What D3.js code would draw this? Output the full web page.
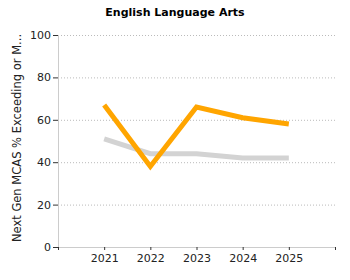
<!DOCTYPE html>
<html>
<head>
<meta charset="utf-8">
<script src="https://cdn.jsdelivr.net/npm/d3@7"></script>
<style>
body { margin: 0; background: #fff; }
text { font-family: "DejaVu Sans", Verdana, sans-serif; }
</style>
</head>
<body>
<div class="container"></div>
<script>
var years = [2021, 2022, 2023, 2024, 2025];
var schoolValues = [67, 38, 66, 61, 58];
var stateValues = [51, 44, 44, 42, 42];
var yTicks = [0, 20, 40, 60, 80, 100];

var width = 350;
var height = 280;
var mLeft = 58, mRight = 335, mTop = 35, mBottom = 247;

var translate = function(x, y) {
    return 'translate(' + x + ',' + y + ')';
}

var svg = d3.select('.container').append('svg')
    .attr('width', width)
    .attr('height', height);

var XScale = d3.scaleLinear().domain([2020, 2026]).range([mLeft, mRight]);
var YScale = d3.scaleLinear().domain([0, 100]).range([mBottom, mTop]);

svg.append('text')
    .attr('x', 175).attr('y', 16)
    .attr('text-anchor', 'middle')
    .style('font-size', '11px').style('font-weight', 'bold')
    .text('English Language Arts');

// grid
svg.append('g').selectAll('line')
    .data(yTicks.slice(1))
    .enter().append('line')
    .attr('x1', mLeft).attr('x2', mRight)
    .attr('y1', function(d) { return YScale(d) + 0.5; })
    .attr('y2', function(d) { return YScale(d) + 0.5; })
    .attr('stroke', '#bbb').attr('stroke-dasharray', '1,2');

var yAxis = d3.axisLeft(YScale).tickValues(yTicks).tickSize(5).tickPadding(2);
var gy = svg.append('g').attr('transform', translate(mLeft, 0)).call(yAxis);
gy.select('.domain').attr('stroke', '#ccc').attr('d', 'M0.5,' + mTop + 'V' + mBottom);
gy.selectAll('.tick line').attr('stroke', '#333');
gy.selectAll('.tick text').style('font-size', '11px').attr('fill', '#222');

var xAxis = d3.axisBottom(XScale).tickValues([2020].concat(years).concat([2026]))
    .tickFormat(function(d) { return years.indexOf(d) >= 0 ? d : ''; })
    .tickSize(3).tickPadding(4);
var gx = svg.append('g').attr('transform', translate(0, mBottom)).call(xAxis);
gx.select('.domain').attr('stroke', '#ccc').attr('d', 'M' + mLeft + ',0.5H' + mRight);
gx.selectAll('.tick line').attr('stroke', '#333');
gx.selectAll('.tick text').style('font-size', '11px').attr('fill', '#222');

svg.append('text')
    .attr('transform', translate(21, 138) + ' rotate(-90)')
    .attr('text-anchor', 'middle')
    .style('font-size', '11.5px').attr('fill', '#222')
    .text('Next Gen MCAS % Exceeding or M...');

var line = d3.line()
    .x(function(d, i) { return XScale(years[i]); })
    .y(function(d) { return YScale(d); });

svg.append('path').datum(stateValues)
    .attr('d', line).attr('fill', 'none')
    .attr('stroke', '#d3d3d3').attr('stroke-width', 5);

svg.append('path').datum(schoolValues)
    .attr('d', line).attr('fill', 'none')
    .attr('stroke', '#ffa500').attr('stroke-width', 5);
</script>
</body>
</html>
